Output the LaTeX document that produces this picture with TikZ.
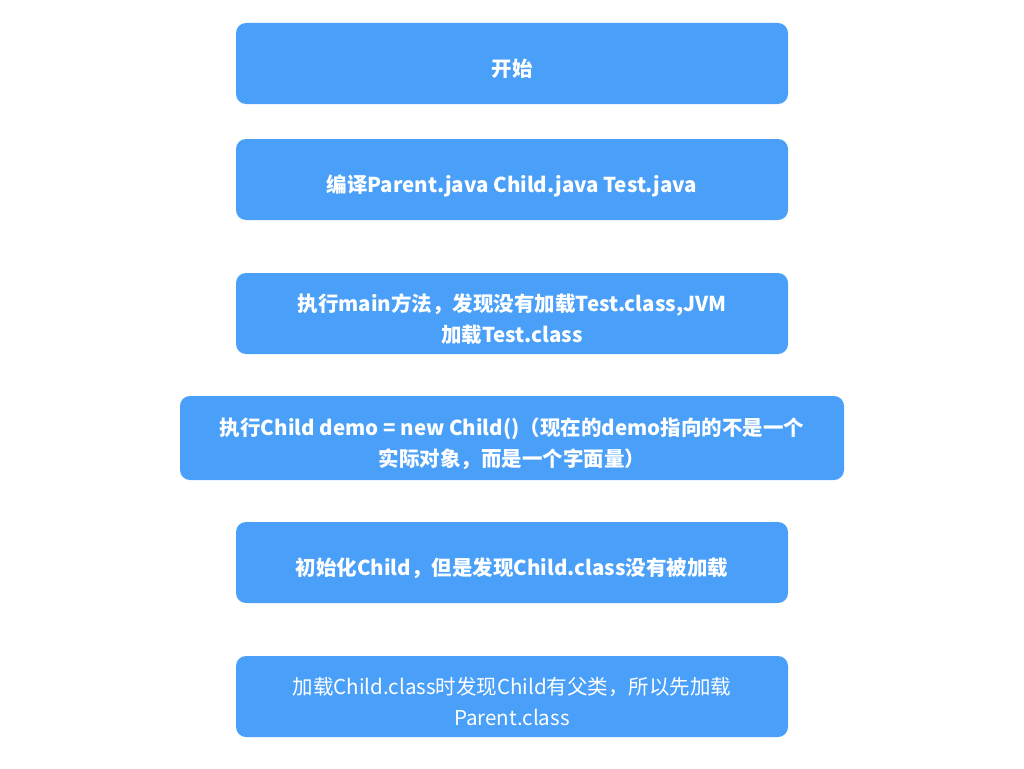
\documentclass[tikz,border=0pt]{standalone}
\usepackage{fontspec}
\newfontfamily\cjk{Noto Sans CJK SC}
\definecolor{stepblue}{RGB}{74,160,248}
% text sits a little below the middle of each box
\newcommand\steptext[1]{\raisebox{-7pt}[\height][\depth]{\begin{tabular}{@{}c@{}}#1\end{tabular}}}
\tikzset{
	stepbox/.style={draw=none, fill=stepblue, rounded corners=10pt, text=white, align=center,
		minimum width=552pt, minimum height=81pt, inner sep=0pt,
		font=\cjk\bfseries\fontsize{20.5}{31}\selectfont},
}
\begin{document}
\begin{tikzpicture}[x=1pt, y=-1pt]
	\useasboundingbox (0,0) rectangle (1024,768);
	\node[stepbox] (start) at (512,63.5) {\steptext{开始}};
	\node[stepbox] (compile) at (512,179.5) {\steptext{编译Parent.java Child.java Test.java}};
	\node[stepbox] (runmain) at (512,313.5) {\steptext{执行main方法，发现没有加载Test.class,JVM\\加载Test.class}};
	\node[stepbox, minimum width=664pt, minimum height=84pt] (newchild) at (512,438) {\steptext{执行Child demo = new Child()（现在的demo指向的不是一个\\实际对象，而是一个字面量）}};
	\node[stepbox] (initchild) at (512,562.5) {\steptext{初始化Child，但是发现Child.class没有被加载}};
	\node[stepbox, font=\cjk\fontsize{20.5}{31}\selectfont] (loadparent) at (512,696.5) {\steptext{加载Child.class时发现Child有父类，所以先加载\\Parent.class}};
\end{tikzpicture}
\end{document}
